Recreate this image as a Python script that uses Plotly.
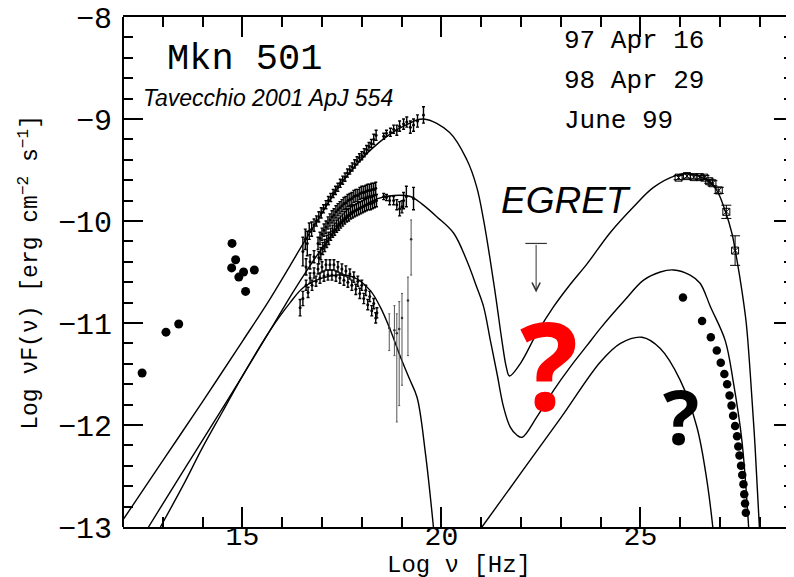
import plotly.graph_objects as go

# ---------------- model curves (Log nu, Log nuF(nu)) ----------------
m97_x = [12.0, 13.0, 14.0, 15.0, 15.7, 16.5, 17.0, 17.4, 17.8, 18.2, 18.7, 19.1, 19.55,
         20.2, 20.64, 20.89, 21.06, 21.23, 21.38, 21.52, 21.63, 21.71, 21.98, 22.4, 22.82,
         23.24, 23.66, 24.25, 24.83, 25.33, 25.92, 26.17, 26.67, 26.92, 27.13, 27.30,
         27.43, 27.55, 27.66, 27.76, 27.88, 27.99]
m97_y = [-12.93, -12.35, -11.77, -11.18, -10.76, -10.24, -9.92, -9.67, -9.48, -9.31, -9.15,
         -9.06, -9.00, -9.13, -9.40, -9.67, -9.99, -10.39, -10.78, -11.17, -11.43, -11.52,
         -11.40, -11.10, -10.84, -10.62, -10.42, -10.11, -9.86, -9.67, -9.55, -9.535, -9.60,
         -9.70, -9.90, -10.12, -10.39, -10.68, -11.00, -11.49, -12.20, -13.0]

m98_x = [12.64, 13.5, 14.11, 15.0, 15.7, 16.3, 16.96, 17.5, 18.0, 18.4, 18.8, 19.22, 19.5,
         19.89, 20.31, 20.64, 20.89, 21.06, 21.23, 21.40, 21.56, 21.73, 21.90, 22.03, 22.4,
         22.82, 23.24, 23.66, 24.0, 24.6, 25.08, 25.5, 25.83, 26.25, 26.5, 26.76, 27.13,
         27.34, 27.55, 27.72]
m98_y = [-13.0, -12.46, -12.08, -11.52, -11.07, -10.68, -10.29, -10.02, -9.86, -9.78, -9.75,
         -9.76, -9.83, -9.96, -10.12, -10.39, -10.65, -10.84, -11.17, -11.50, -11.82, -12.02,
         -12.10, -12.12, -11.92, -11.66, -11.43, -11.22, -11.05, -10.78, -10.58, -10.50,
         -10.48, -10.53, -10.61, -10.84, -11.17, -11.59, -12.15, -13.0]

m99_syn_x = [12.94, 13.5, 14.0, 14.5, 15.0, 15.7, 16.2, 16.54, 17.0, 17.38, 17.79, 18.21,
             18.46, 18.72, 18.97, 19.2, 19.39, 19.6, 19.8]
m99_syn_y = [-13.0, -12.6, -12.22, -11.87, -11.52, -11.07, -10.80, -10.65, -10.56, -10.53,
             -10.55, -10.68, -10.84, -11.07, -11.33, -11.55, -11.73, -12.28, -13.0]
m99_ic_x = [21.02, 22.0, 23.0, 24.0, 24.5, 25.04, 25.5, 26.0, 26.42, 26.67, 26.82]
m99_ic_y = [-13.0, -12.47, -11.93, -11.38, -11.20, -11.14, -11.25, -11.56, -12.02, -12.54, -13.0]

# ---------------- X-ray data (BeppoSAX) ----------------
sax97_x = [16.52, 16.58, 16.63, 16.68, 16.74, 16.80, 16.86, 16.92, 16.98, 17.04,
           17.10, 17.16, 17.22, 17.28, 17.34, 17.40, 17.46, 17.52, 17.58, 17.64,
           17.70, 17.76, 17.82, 17.88, 17.94, 18.00, 18.06, 18.12, 18.18, 18.24,
           18.30, 18.36, 18.55, 18.62, 18.72, 18.80, 18.88, 18.95, 19.05, 19.13,
           19.22, 19.30, 19.40, 19.55]
sax97_y = [-10.30, -10.18, -10.22, -10.10, -10.08, -10.04, -10.00, -9.96, -9.92, -9.88,
           -9.84, -9.80, -9.77, -9.73, -9.70, -9.67, -9.63, -9.60, -9.57, -9.53,
           -9.50, -9.47, -9.44, -9.41, -9.38, -9.36, -9.33, -9.30, -9.27, -9.24,
           -9.20, -9.16, -9.17, -9.14, -9.13, -9.10, -9.11, -9.07, -9.05, -9.03,
           -9.08, -9.06, -9.02, -8.96]
sax97_e = [0.14, 0.10, 0.12, 0.08, 0.07, 0.06, 0.05, 0.05, 0.05, 0.04,
           0.04, 0.04, 0.04, 0.04, 0.04, 0.04, 0.04, 0.04, 0.04, 0.04,
           0.04, 0.04, 0.04, 0.04, 0.04, 0.04, 0.04, 0.04, 0.04, 0.04,
           0.05, 0.05, 0.03, 0.03, 0.04, 0.04, 0.05, 0.05, 0.05, 0.05,
           0.06, 0.06, 0.06, 0.08]

sax98_x = [16.60, 16.70, 16.80,
           16.90, 16.92, 16.95, 16.97, 17.00, 17.02, 17.05, 17.07, 17.10, 17.12,
           17.15, 17.17, 17.20, 17.22, 17.25, 17.27, 17.30, 17.32, 17.35, 17.37,
           17.40, 17.42, 17.45, 17.47, 17.50, 17.52, 17.55, 17.57, 17.60, 17.62,
           17.65, 17.67, 17.70, 17.72, 17.75, 17.77, 17.80, 17.82, 17.85, 17.87,
           17.90, 17.92, 17.95, 17.97, 18.00, 18.02, 18.05, 18.07, 18.10, 18.12,
           18.15, 18.17, 18.20, 18.22, 18.25, 18.27, 18.30, 18.32, 18.35, 18.37,
           18.55, 18.62, 18.70, 18.80, 18.88, 18.95, 19.01, 19.05, 19.12, 19.30]
sax98_y = [-10.45, -10.40, -10.35,
           -10.22, -10.36, -10.17, -10.32, -10.13, -10.27, -10.09, -10.24, -10.06, -10.20,
           -10.02, -10.17, -9.99, -10.13, -9.96, -10.10, -9.94, -10.08, -9.91, -10.05,
           -9.89, -10.03, -9.87, -10.01, -9.85, -9.99, -9.83, -9.97, -9.82, -9.95,
           -9.80, -9.94, -9.79, -9.92, -9.78, -9.91, -9.76, -9.90, -9.75, -9.89,
           -9.75, -9.88, -9.73, -9.87, -9.72, -9.86, -9.72, -9.85, -9.71, -9.84,
           -9.70, -9.83, -9.70, -9.83, -9.69, -9.82, -9.69, -9.81, -9.68, -9.80,
           -9.76, -9.77, -9.80, -9.80, -9.84, -9.88, -9.86, -9.80, -9.76, -9.78]
sax98_e = [0.08, 0.07, 0.06,
           0.06, 0.06, 0.06, 0.06, 0.06, 0.06, 0.06, 0.06, 0.06, 0.06,
           0.06, 0.06, 0.06, 0.06, 0.06, 0.06, 0.06, 0.06, 0.06, 0.06,
           0.06, 0.06, 0.06, 0.06, 0.06, 0.06, 0.06, 0.06, 0.06, 0.06,
           0.06, 0.06, 0.06, 0.06, 0.06, 0.06, 0.06, 0.06, 0.06, 0.06,
           0.06, 0.06, 0.06, 0.06, 0.06, 0.06, 0.06, 0.06, 0.06, 0.06,
           0.06, 0.06, 0.06, 0.06, 0.06, 0.06, 0.06, 0.06, 0.06, 0.06,
           0.03, 0.03, 0.04, 0.04, 0.05, 0.07, 0.06, 0.08, 0.10, 0.11]

sax99_x = [16.45, 16.52,
           16.60, 16.65, 16.70, 16.75, 16.80, 16.85, 16.90, 16.95, 17.00, 17.05,
           17.10, 17.15, 17.20, 17.25, 17.30, 17.35, 17.40, 17.45, 17.50, 17.55,
           17.60, 17.65, 17.70, 17.75, 17.80, 17.85, 17.90, 17.95, 18.00, 18.05,
           18.10, 18.15, 18.20, 18.25, 18.30, 18.35, 18.38]
sax99_y = [-10.85, -10.76,
           -10.63, -10.70, -10.56, -10.63, -10.51, -10.59, -10.47, -10.56, -10.45, -10.54,
           -10.43, -10.53, -10.43, -10.53, -10.43, -10.54, -10.45, -10.56, -10.47, -10.58,
           -10.49, -10.60, -10.52, -10.63, -10.55, -10.67, -10.59, -10.71, -10.63, -10.76,
           -10.68, -10.82, -10.74, -10.88, -10.81, -10.95, -10.90]
sax99_e = [0.08, 0.07,
           0.05, 0.05, 0.05, 0.05, 0.05, 0.05, 0.05, 0.05, 0.05, 0.05,
           0.05, 0.05, 0.05, 0.05, 0.05, 0.05, 0.05, 0.05, 0.05, 0.05,
           0.05, 0.05, 0.05, 0.05, 0.05, 0.05, 0.05, 0.05, 0.05, 0.05,
           0.05, 0.05, 0.05, 0.05, 0.05, 0.05, 0.05]

# PDS high-energy points with large (asymmetric) errors
pds_x = [18.69, 18.82, 18.88, 18.94, 19.01, 19.16, 19.24]
pds_y = [-11.05, -11.07, -11.10, -11.06, -10.95, -10.78, -10.18]
pds_up = [0.14, 0.24, 0.19, 0.27, 0.24, 0.23, 0.19]
pds_dn = [0.22, 0.25, 0.87, 0.75, 0.66, 0.54, 0.35]

# ---------------- TeV data (97 Apr 16) ----------------
tev_x = [25.96, 26.17, 26.34, 26.49, 26.61, 26.73, 26.81, 26.97, 27.16, 27.38]
tev_y = [-9.575, -9.56, -9.57, -9.57, -9.575, -9.61, -9.63, -9.70, -9.91, -10.29]
tev_e = [0.02, 0.02, 0.02, 0.02, 0.02, 0.02, 0.025, 0.03, 0.065, 0.145]

# ---------------- radio / IR / optical points ----------------
opt_x = [12.48, 13.08, 13.40, 14.74, 14.83, 14.73, 15.03, 14.91, 15.30, 15.08]
opt_y = [-11.49, -11.09, -11.01, -10.22, -10.38, -10.46, -10.50, -10.55, -10.48, -10.69]

# ---------------- TeV points (1999 low state) ----------------
low_x = [26.07, 26.55, 26.77, 26.92, 27.02, 27.11, 27.18, 27.24, 27.29, 27.33,
         27.38, 27.43, 27.46, 27.49, 27.53, 27.56, 27.59, 27.61, 27.63, 27.65]
low_y = [-10.75, -10.98, -11.14, -11.27, -11.39, -11.50, -11.60, -11.71, -11.81, -11.91,
         -12.01, -12.11, -12.21, -12.30, -12.40, -12.49, -12.58, -12.68, -12.77, -12.86]

# ---------------- EGRET upper limit ----------------
egret_x = 22.38
egret_ul = -10.22
egret_halfwidth = 0.27
egret_arrow = 0.48

X_RANGE = [12.0, 28.86]
Y_RANGE = [-13.0, -8.0]

MONO = "Liberation Mono, Courier New, monospace"
SANS = "Liberation Sans, Arial, sans-serif"
QFONT = "Open Sans, Noto Sans, sans-serif"

fig = go.Figure()

line_style = dict(color="black", width=1.4)
fig.add_trace(go.Scatter(x=m97_x, y=m97_y, mode="lines", line=line_style, line_shape="spline"))
fig.add_trace(go.Scatter(x=m98_x, y=m98_y, mode="lines", line=line_style, line_shape="spline"))
fig.add_trace(go.Scatter(x=m99_syn_x, y=m99_syn_y, mode="lines", line=line_style, line_shape="spline"))
fig.add_trace(go.Scatter(x=m99_ic_x, y=m99_ic_y, mode="lines", line=line_style, line_shape="spline"))

for xs, ys, es in [(sax97_x, sax97_y, sax97_e), (sax98_x, sax98_y, sax98_e), (sax99_x, sax99_y, sax99_e)]:
    fig.add_trace(go.Scatter(
        x=xs, y=ys, mode="markers",
        marker=dict(size=3, color="black"),
        error_y=dict(type="data", array=es, visible=True, thickness=1.4, width=1.5, color="black"),
    ))

fig.add_trace(go.Scatter(
    x=pds_x, y=pds_y, mode="markers",
    marker=dict(size=2.5, color="#333"),
    error_y=dict(type="data", symmetric=False, array=pds_up, arrayminus=pds_dn,
                 visible=True, thickness=1, width=1, color="#555"),
))

fig.add_trace(go.Scatter(
    x=tev_x, y=tev_y, mode="markers",
    marker=dict(symbol="square-x-open", size=7, color="black", line=dict(width=1, color="black")),
    error_y=dict(type="data", array=tev_e, visible=True, thickness=1, width=5, color="black"),
))

fig.add_trace(go.Scatter(x=opt_x, y=opt_y, mode="markers",
                         marker=dict(size=9, color="black")))
fig.add_trace(go.Scatter(x=low_x, y=low_y, mode="markers",
                         marker=dict(size=8.5, color="black")))

# EGRET upper limit: horizontal cap + arrow
fig.add_trace(go.Scatter(
    x=[egret_x], y=[egret_ul], mode="markers",
    marker=dict(size=1, color="#333"),
    error_x=dict(type="constant", value=egret_halfwidth, visible=True, thickness=1.2, width=0, color="#333"),
))
fig.add_annotation(x=egret_x, y=egret_ul - egret_arrow, ax=egret_x, ay=egret_ul,
                   xref="x", yref="y", axref="x", ayref="y", text="",
                   showarrow=True, arrowhead=5, arrowsize=1.6, arrowwidth=1, arrowcolor="#333",
                   standoff=0, startstandoff=0)


def txt(x, y, s, size, family, color="black", italic=False, bold=False, xanchor="left"):
    fig.add_annotation(x=x, y=y, xref="x", yref="y", text=s, showarrow=False,
                       xanchor=xanchor, yanchor="middle",
                       font=dict(size=size, family=family, color=color,
                                 style="italic" if italic else "normal",
                                 weight="bold" if bold else "normal"))


txt(13.06, -8.41, "Mkn 501", 37, MONO)
txt(12.45, -8.79, "Tavecchio 2001 ApJ 554", 23, SANS, italic=True)
txt(23.03, -8.24, "97 Apr 16", 26, MONO)
txt(23.03, -8.63, "98 Apr 29", 26, MONO)
txt(23.03, -9.02, "June 99", 26, MONO)
txt(21.45, -9.80, "EGRET", 37, SANS, italic=True)
txt(22.71, -11.39, "?", 122, QFONT, color="#ff0000", bold=True, xanchor="center")
txt(26.03, -11.91, "?", 76, QFONT, color="black", bold=True, xanchor="center")

# axis titles
fig.add_annotation(x=-0.139, y=0.5, xref="paper", yref="paper", textangle=-90,
                   text="Log νF(ν) [erg cm<sup>−2</sup> s<sup>−1</sup>]", showarrow=False,
                   xanchor="center", yanchor="middle", font=dict(size=23, family=MONO, color="black"))
fig.add_annotation(x=0.5, y=-0.075, xref="paper", yref="paper",
                   text="Log ν [Hz]", showarrow=False,
                   xanchor="center", yanchor="middle", font=dict(size=24, family=MONO, color="black"))

# left frame line
fig.add_shape(type="line", xref="paper", yref="paper", x0=0, x1=0, y0=0, y1=1,
              line=dict(color="black", width=2))

# the page body has an 8px margin: the figure is sized so that it ends at the window edge
fig.update_layout(
    width=786, height=569,
    margin=dict(l=115, r=0, t=9, b=50),
    paper_bgcolor="white", plot_bgcolor="white",
    showlegend=False,
    xaxis=dict(range=X_RANGE, showgrid=False, zeroline=False, automargin=False,
               showline=True, linecolor="black", linewidth=2, mirror="ticks",
               ticks="inside", ticklen=20, tickwidth=1.5, tickcolor="black",
               tick0=0, dtick=5, ticklabelstandoff=-18,
               minor=dict(ticks="inside", ticklen=10, tickwidth=1.5, tickcolor="black", dtick=1, tick0=0),
               tickfont=dict(family=MONO, size=28, color="black")),
    yaxis=dict(range=Y_RANGE, showgrid=False, zeroline=False, automargin=False,
               showline=False, mirror="ticks", ticklabeloverflow="allow",
               ticks="inside", ticklen=20, tickwidth=1.5, tickcolor="black",
               tick0=0, dtick=1, ticklabelstandoff=10,
               minor=dict(ticks="inside", ticklen=10, tickwidth=1.5, tickcolor="black", dtick=0.2, tick0=0),
               tickfont=dict(family=MONO, size=30, color="black")),
)

fig.write_html("out.html")
